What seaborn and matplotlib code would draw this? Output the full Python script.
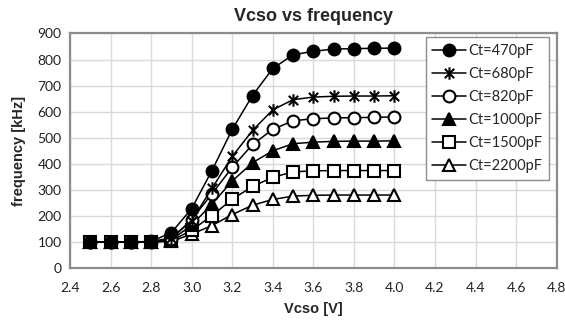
import numpy as np
import pandas as pd
import matplotlib
matplotlib.use("Agg")
import matplotlib.pyplot as plt
from matplotlib.path import Path
import seaborn as sns

vcso = [2.5, 2.6, 2.7, 2.8, 2.9, 3.0, 3.1, 3.2, 3.3, 3.4, 3.5, 3.6, 3.7, 3.8, 3.9, 4.0]
f_470 = [100, 100, 100, 102, 136, 228, 374, 532, 662, 766, 818, 832, 840, 842, 843, 844]
f_680 = [100, 100, 100, 101, 116, 182, 306, 428, 528, 607, 646, 656, 659, 660, 660, 661]
f_820 = [100, 100, 100, 101, 112, 186, 285, 386, 474, 532, 565, 573, 576, 577, 578, 580]
f_1000 = [100, 100, 100, 101, 108, 165, 245, 334, 404, 450, 477, 483, 486, 487, 487, 488]
f_1500 = [100, 100, 100, 100, 105, 145, 201, 264, 313, 348, 369, 373, 374, 374, 374, 374]
f_2200 = [100, 100, 100, 100, 102, 130, 163, 205, 241, 263, 276, 279, 280, 280, 280, 280]
labels = ["Ct=470pF", "Ct=680pF", "Ct=820pF", "Ct=1000pF", "Ct=1500pF", "Ct=2200pF"]
series = [f_470, f_680, f_820, f_1000, f_1500, f_2200]
x_ticks = [2.4, 2.6, 2.8, 3.0, 3.2, 3.4, 3.6, 3.8, 4.0, 4.2, 4.4, 4.6, 4.8]
y_ticks = [0, 100, 200, 300, 400, 500, 600, 700, 800, 900]

star = Path([(0, -1), (0, 1), (-0.75, -0.75), (0.75, 0.75), (-0.75, 0.75), (0.75, -0.75)],
            [Path.MOVETO, Path.LINETO] * 3)
markers = ["o", star, "o", "^", "s", "^"]
faces = ["black", "black", "white", "black", "white", "white"]
sizes = [8.5, 9, 8.5, 9, 8.5, 9]

sns.set_theme(style="white")
plt.rcParams["font.family"] = ["Liberation Sans", "DejaVu Sans"]

fig, ax = plt.subplots(figsize=(5.65, 3.29), dpi=100)
fig.subplots_adjust(left=0.1239, right=0.9853, top=0.8982, bottom=0.1854)

for i, (lab, vals, m, fc, ms) in enumerate(zip(labels, series, markers, faces, sizes)):
    df = pd.DataFrame({"Vcso": vcso, "freq": vals})
    sns.lineplot(data=df, x="Vcso", y="freq", ax=ax, color="black", lw=1.1,
                 marker=m, markersize=ms, markerfacecolor=fc,
                 markeredgecolor="black", markeredgewidth=1.5, label=lab,
                 zorder=10 - i)

ax.set_xlim(2.4, 4.8)
ax.set_ylim(0, 900)
ax.set_xticks(x_ticks)
ax.set_xticklabels([f"{t:.1f}" for t in x_ticks])
ax.set_yticks(y_ticks)
ax.grid(True, color="#d9d9d9", lw=1)
ax.set_axisbelow(True)
for s in ax.spines.values():
    s.set_color("#8c8c8c")
    s.set_linewidth(1.6)
ax.tick_params(axis="x", direction="in", length=3, color="#8c8c8c", pad=10)
ax.tick_params(axis="y", length=0, pad=6)
for t in ax.get_xticklabels() + ax.get_yticklabels():
    t.set_fontfamily(["Lato", "DejaVu Sans"])
    t.set_fontsize(10)
    t.set_color("#222222")

ax.set_title("Vcso vs frequency", fontsize=13, fontweight="bold", pad=9)
ax.set_xlabel("Vcso [V]", fontsize=10.5, fontweight="bold", labelpad=6)
ax.set_ylabel("frequency [kHz]", fontsize=10.5, fontweight="bold", labelpad=8)

leg = ax.legend(loc="upper left", bbox_to_anchor=(0.731, 0.983), borderaxespad=0,
                frameon=True, fancybox=False, handlelength=2.3, handletextpad=0.15,
                labelspacing=0.62, borderpad=0.45,
                prop={"family": ["Lato", "DejaVu Sans"], "size": 10.5})
leg.get_frame().set_edgecolor("#8c8c8c")
leg.get_frame().set_linewidth(1.0)
leg.get_frame().set_alpha(1)
leg.set_zorder(20)

fig.savefig("out.png", dpi=100)
